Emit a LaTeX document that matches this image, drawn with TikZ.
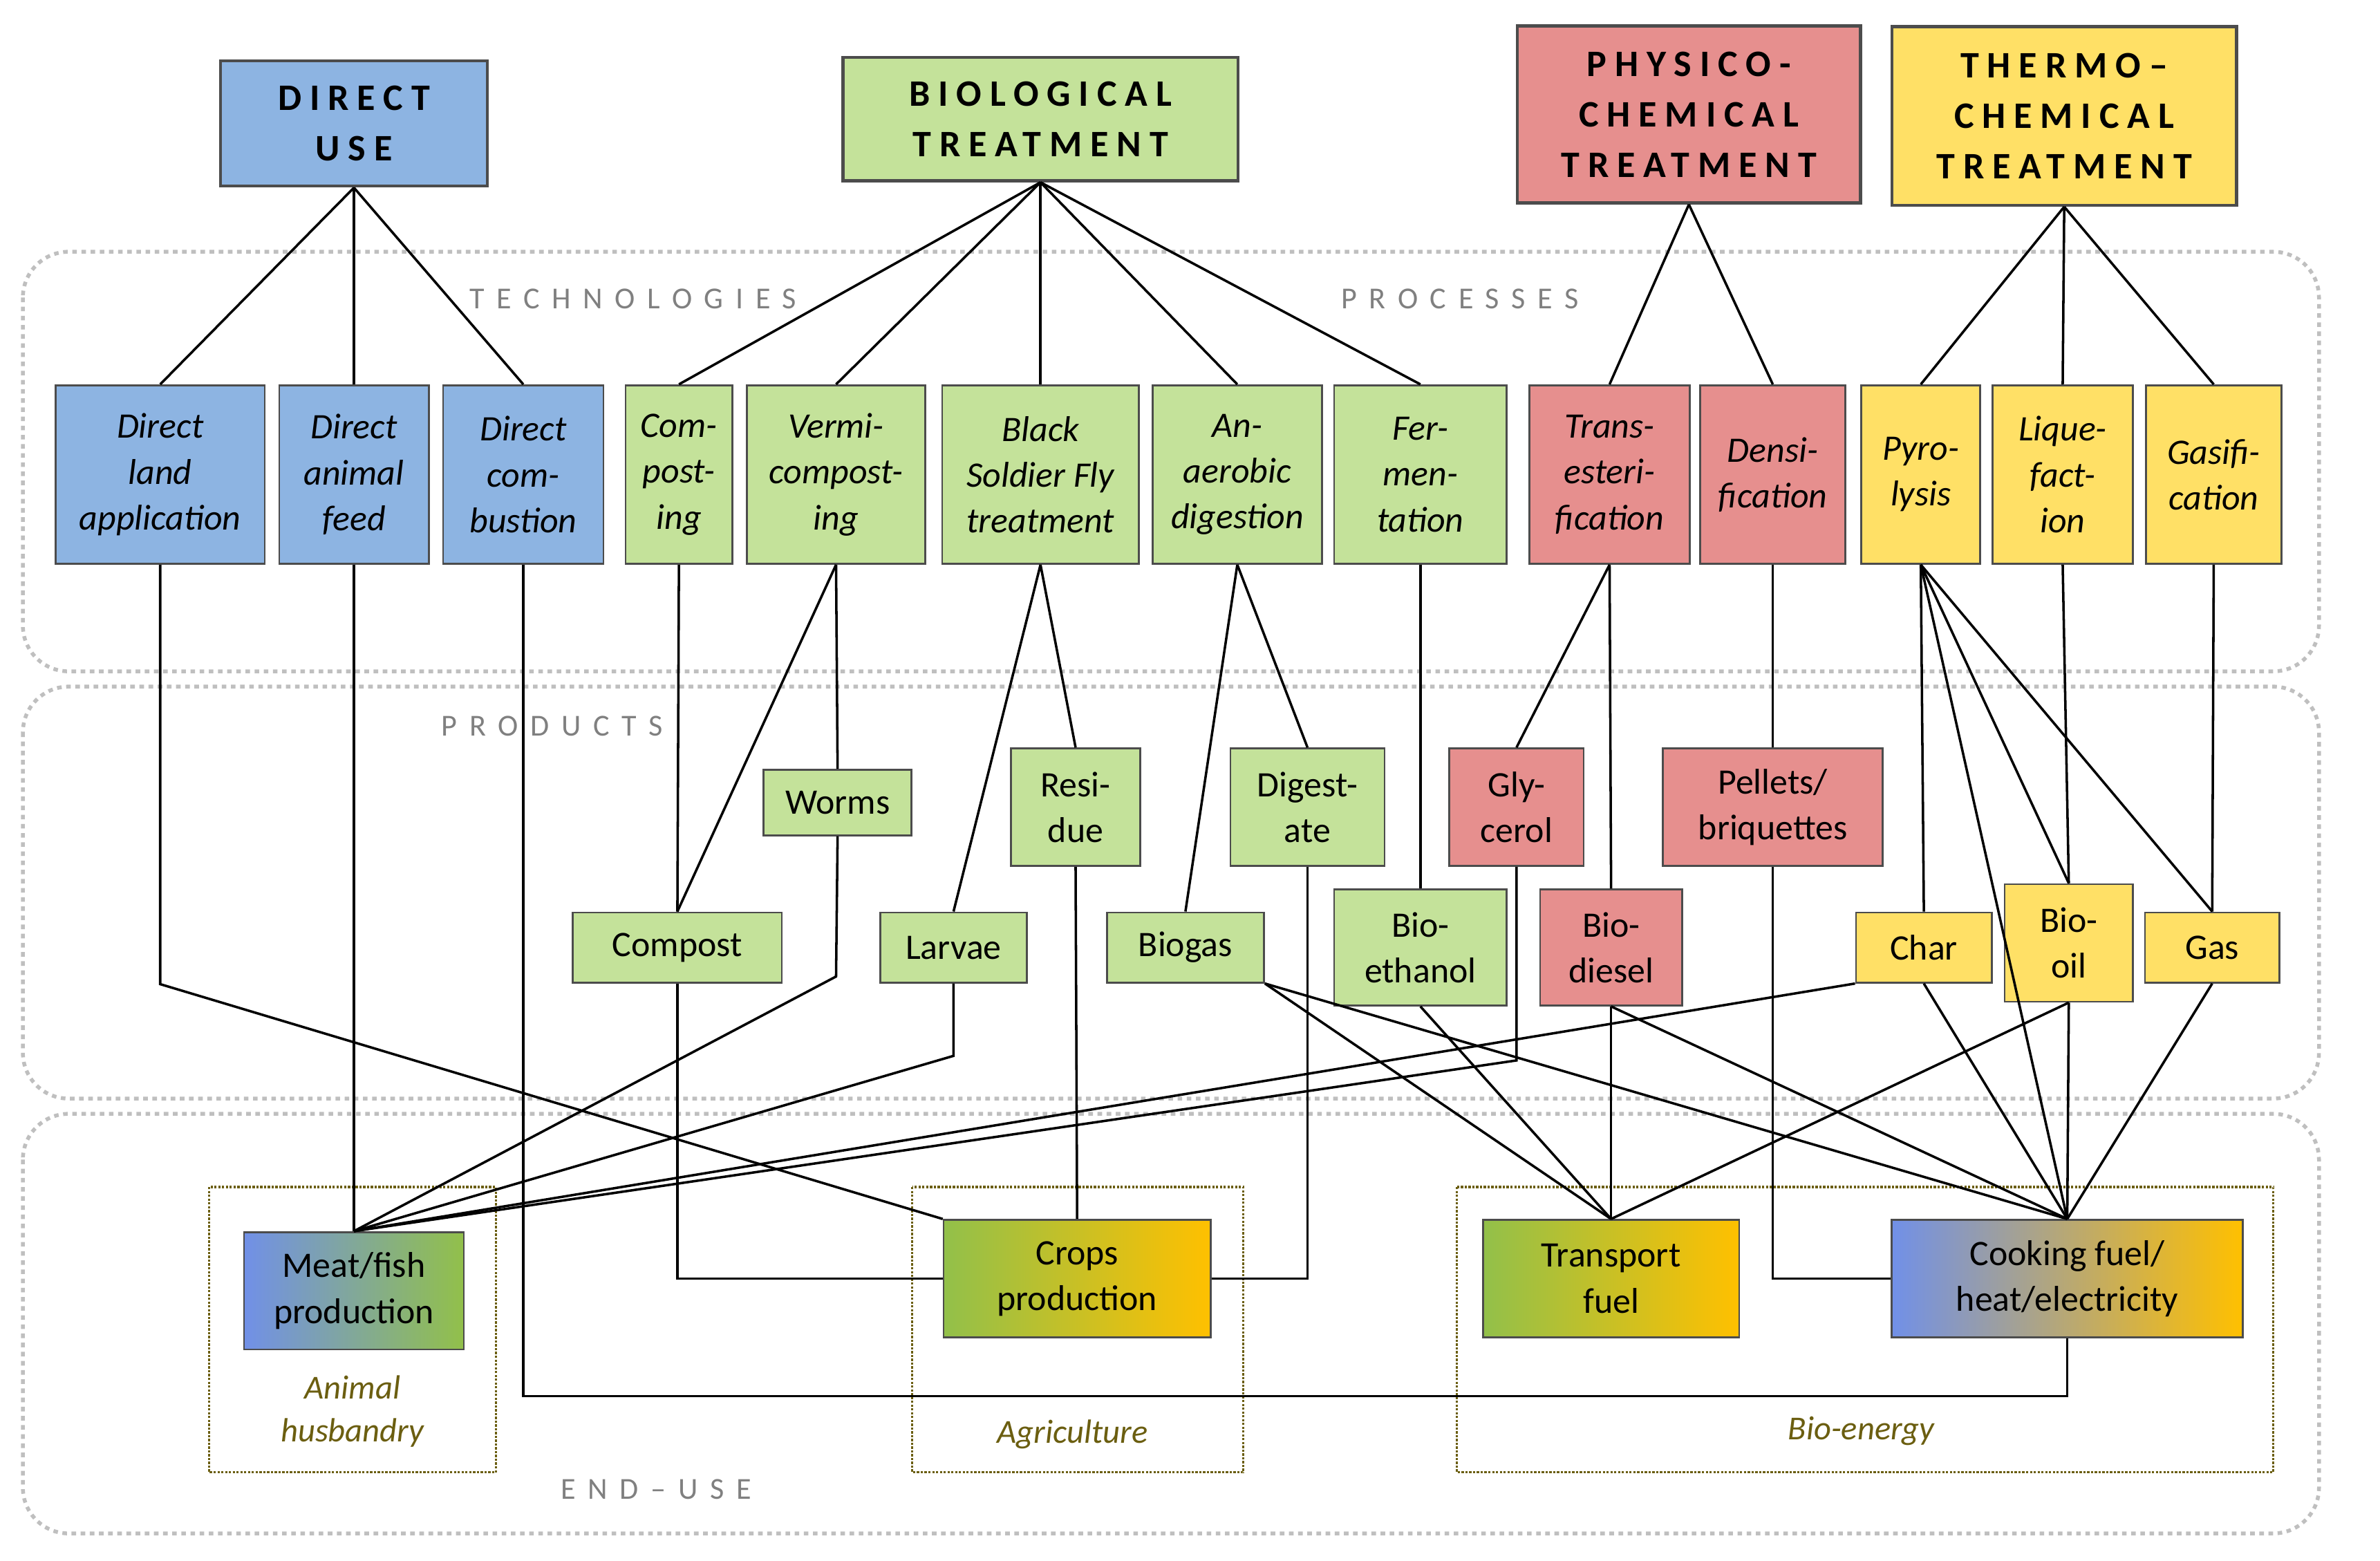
\documentclass[tikz,border=0pt]{standalone}
\usepackage{fontspec}
\setmainfont{Carlito}
\usetikzlibrary{positioning}
\definecolor{cb}{HTML}{8DB4E2}
\definecolor{cg}{HTML}{C4E29A}
\definecolor{cr}{HTML}{E68F8E}
\definecolor{cy}{HTML}{FFE066}
\definecolor{co}{HTML}{FFC000}
\definecolor{cgg}{HTML}{92C04A}
\definecolor{ol}{HTML}{6B5E10}
\begin{document}
\begin{tikzpicture}[x=1pt,y=-1pt,
 box/.style={draw=black!70,line width=1.2pt,align=center,inner sep=0pt,font=\fontsize{23.5}{30}\selectfont},
 hdr/.style={box,line width=2pt,font=\fontsize{24.5}{33}\selectfont\bfseries\addfontfeatures{LetterSpace=22}},
 tech/.style={box,font=\fontsize{23.5}{30}\selectfont\itshape},
 band/.style={draw=gray!50,dashed,line width=2.5pt,rounded corners=30pt},
 bandlbl/.style={text=gray,font=\fontsize{20}{20}\selectfont\addfontfeatures{LetterSpace=40}},
 grp/.style={draw=ol,densely dotted,line width=1.5pt},
 grplbl/.style={text=ol,font=\fontsize{22}{28}\selectfont\itshape,align=center},
 ln/.style={line width=1.6pt}]
\useasboundingbox (0,0) rectangle (1560,1023);
\fill[white] (0,0) rectangle (1560,1023);
% bands
\draw[band] (15,165) rectangle (1520,440);
\draw[band] (15,450) rectangle (1520,720);
\draw[band] (15,730) rectangle (1520,1005);
\node[bandlbl] (lt) at (415,196) {TECHNOLOGIES};
\node[bandlbl] (lp) at (957,196) {PROCESSES};
\node[bandlbl] (lpr) at (362,476) {PRODUCTS};
\node[bandlbl] (le) at (430,976) {END--USE};
% groups
\draw[grp] (137,778) rectangle (325,965);
\draw[grp] (598,778) rectangle (815,965);
\draw[grp] (955,778) rectangle (1490,965);
\node[grplbl] (g1) at (231,925) {Animal\\husbandry};
\node[grplbl] (g2) at (703,940) {Agriculture};
\node[grplbl] (g3) at (1220,938) {Bio-energy};
% headers
\node[hdr,fill=cb,minimum width=175,minimum height=82] (du) at (232,81) {DIRECT\\USE};
\node[hdr,fill=cg,minimum width=259,minimum height=81] (bt) at (682,78) {BIOLOGICAL\\TREATMENT};
\node[hdr,fill=cr,minimum width=225,minimum height=116] (pc) at (1107,75) {PHYSICO-\\CHEMICAL\\TREATMENT};
\node[hdr,fill=cy,minimum width=226,minimum height=117] (tc) at (1353,76) {THERMO--\\CHEMICAL\\TREATMENT};
% tech
\def\ty{311}
\node[tech,fill=cb,minimum width=137,minimum height=117] (dla) at (105,\ty) {Direct\\land\\application};
\node[tech,fill=cb,minimum width=98,minimum height=117] (daf) at (232,\ty) {Direct\\animal\\feed};
\node[tech,fill=cb,minimum width=105,minimum height=117] (dc) at (343,\ty) {Direct\\com-\\bustion};
\node[tech,fill=cg,minimum width=70,minimum height=117] (cmp) at (445,\ty) {Com-\\post-\\ing};
\node[tech,fill=cg,minimum width=117,minimum height=117] (ver) at (548,\ty) {Vermi-\\compost-\\ing};
\node[tech,fill=cg,minimum width=129,minimum height=117] (bsf) at (682,\ty) {Black\\Soldier Fly\\treatment};
\node[tech,fill=cg,minimum width=111,minimum height=117] (ana) at (811,\ty) {An-\\aerobic\\digestion};
\node[tech,fill=cg,minimum width=113,minimum height=117] (fer) at (931,\ty) {Fer-\\men-\\tation};
\node[tech,fill=cr,minimum width=105,minimum height=117] (tra) at (1055,\ty) {Trans-\\esteri-\\fication};
\node[tech,fill=cr,minimum width=95,minimum height=117] (den) at (1162,\ty) {Densi-\\fication};
\node[tech,fill=cy,minimum width=78,minimum height=117] (pyr) at (1259,\ty) {Pyro-\\lysis};
\node[tech,fill=cy,minimum width=92,minimum height=117] (liq) at (1352,\ty) {Lique-\\fact-\\ion};
\node[tech,fill=cy,minimum width=89,minimum height=117] (gsf) at (1451,\ty) {Gasifi-\\cation};
% products
\node[box,fill=cg,minimum width=97,minimum height=43] (wor) at (549,526) {Worms};
\node[box,fill=cg,minimum width=85,minimum height=77] (res) at (705,529) {Resi-\\due};
\node[box,fill=cg,minimum width=101,minimum height=77] (dig) at (857,529) {Digest-\\ate};
\node[box,fill=cr,minimum width=88,minimum height=77] (gly) at (994,529) {Gly-\\cerol};
\node[box,fill=cr,minimum width=144,minimum height=77] (pel) at (1162,529) {Pellets/\\briquettes};
\node[box,fill=cg,minimum width=137,minimum height=46] (com) at (444,621) {Compost};
\node[box,fill=cg,minimum width=96,minimum height=46] (lar) at (625,621) {Larvae};
\node[box,fill=cg,minimum width=103,minimum height=46] (bgs) at (777,621) {Biogas};
\node[box,fill=cg,minimum width=113,minimum height=76] (bet) at (931,621) {Bio-\\ethanol};
\node[box,fill=cr,minimum width=93,minimum height=76] (bdi) at (1056,621) {Bio-\\diesel};
\node[box,fill=cy,minimum width=89,minimum height=46] (chr) at (1261,621) {Char};
\node[box,fill=cy,minimum width=84,minimum height=77] (boil) at (1356,618) {Bio-\\oil};
\node[box,fill=cy,minimum width=88,minimum height=46] (gas) at (1450,621) {Gas};
% end use
\node[box,left color=cb!80!blue,right color=cgg,minimum width=144,minimum height=77] (meat) at (232,846) {Meat/fish\\production};
\node[box,left color=cgg,right color=co,minimum width=175,minimum height=77] (crop) at (706,838) {Crops\\production};
\node[box,left color=cgg,right color=co,minimum width=168,minimum height=77] (tf) at (1056,838) {Transport\\fuel};
\node[box,left color=cb!80!blue,middle color=cgg!60!cr,right color=co,minimum width=230,minimum height=77] (cook) at (1355,838) {Cooking fuel/\\heat/electricity};
\begin{scope}[ln]
\foreach \t in {dla,daf,dc} \draw (du.south) -- (\t.north);
\foreach \t in {cmp,ver,bsf,ana,fer} \draw (bt.south) -- (\t.north);
\foreach \t in {tra,den} \draw (pc.south) -- (\t.north);
\foreach \t in {pyr,liq,gsf} \draw (tc.south) -- (\t.north);
\draw (cmp.south) -- (com.north);
\draw (ver.south) -- (com.north);
\draw (ver.south) -- (wor.north);
\draw (bsf.south) -- (lar.north);
\draw (bsf.south) -- (res.north);
\draw (ana.south) -- (bgs.north);
\draw (ana.south) -- (dig.north);
\draw (fer.south) -- (bet.north);
\draw (tra.south) -- (gly.north);
\draw (tra.south) -- (bdi.north);
\draw (den.south) -- (pel.north);
\draw (pyr.south) -- (chr.north);
\draw (pyr.south) -- (boil.north);
\draw (pyr.south) -- (gas.north);
\draw (pyr.south) -- (cook.north);
\draw (liq.south) -- (boil.north);
\draw (gsf.south) -- (gas.north);
\draw (dla.south) -- (105,645) -- (crop.north west);
\draw (daf.south) -- (meat.north);
\draw (dc.south) -- (343,915) -- (1355,915) -- (cook.south);
\draw (wor.south) -- (548,640) -- (meat.north);
\draw (lar.south) -- (625,692) -- (meat.north);
\draw (res.south) -- (crop.north);
\draw (com.south) -- (444,838) -- (crop.west);
\draw (dig.south) -- (857,838) -- (crop.east);
\draw (gly.south) -- (994,695) -- (meat.north);
\draw (bgs.south east) -- (tf.north);
\draw (bgs.south east) -- (cook.north);
\draw (bet.south) -- (tf.north);
\draw (bdi.south) -- (tf.north);
\draw (bdi.south) -- (cook.north);
\draw (pel.south) -- (1162,838) -- (cook.west);
\draw (chr.south west) -- (meat.north);
\draw (chr.south) -- (cook.north);
\draw (boil.south) -- (cook.north);
\draw (boil.south) -- (tf.north);
\draw (gas.south) -- (cook.north);
\end{scope}
\end{tikzpicture}
\end{document}
